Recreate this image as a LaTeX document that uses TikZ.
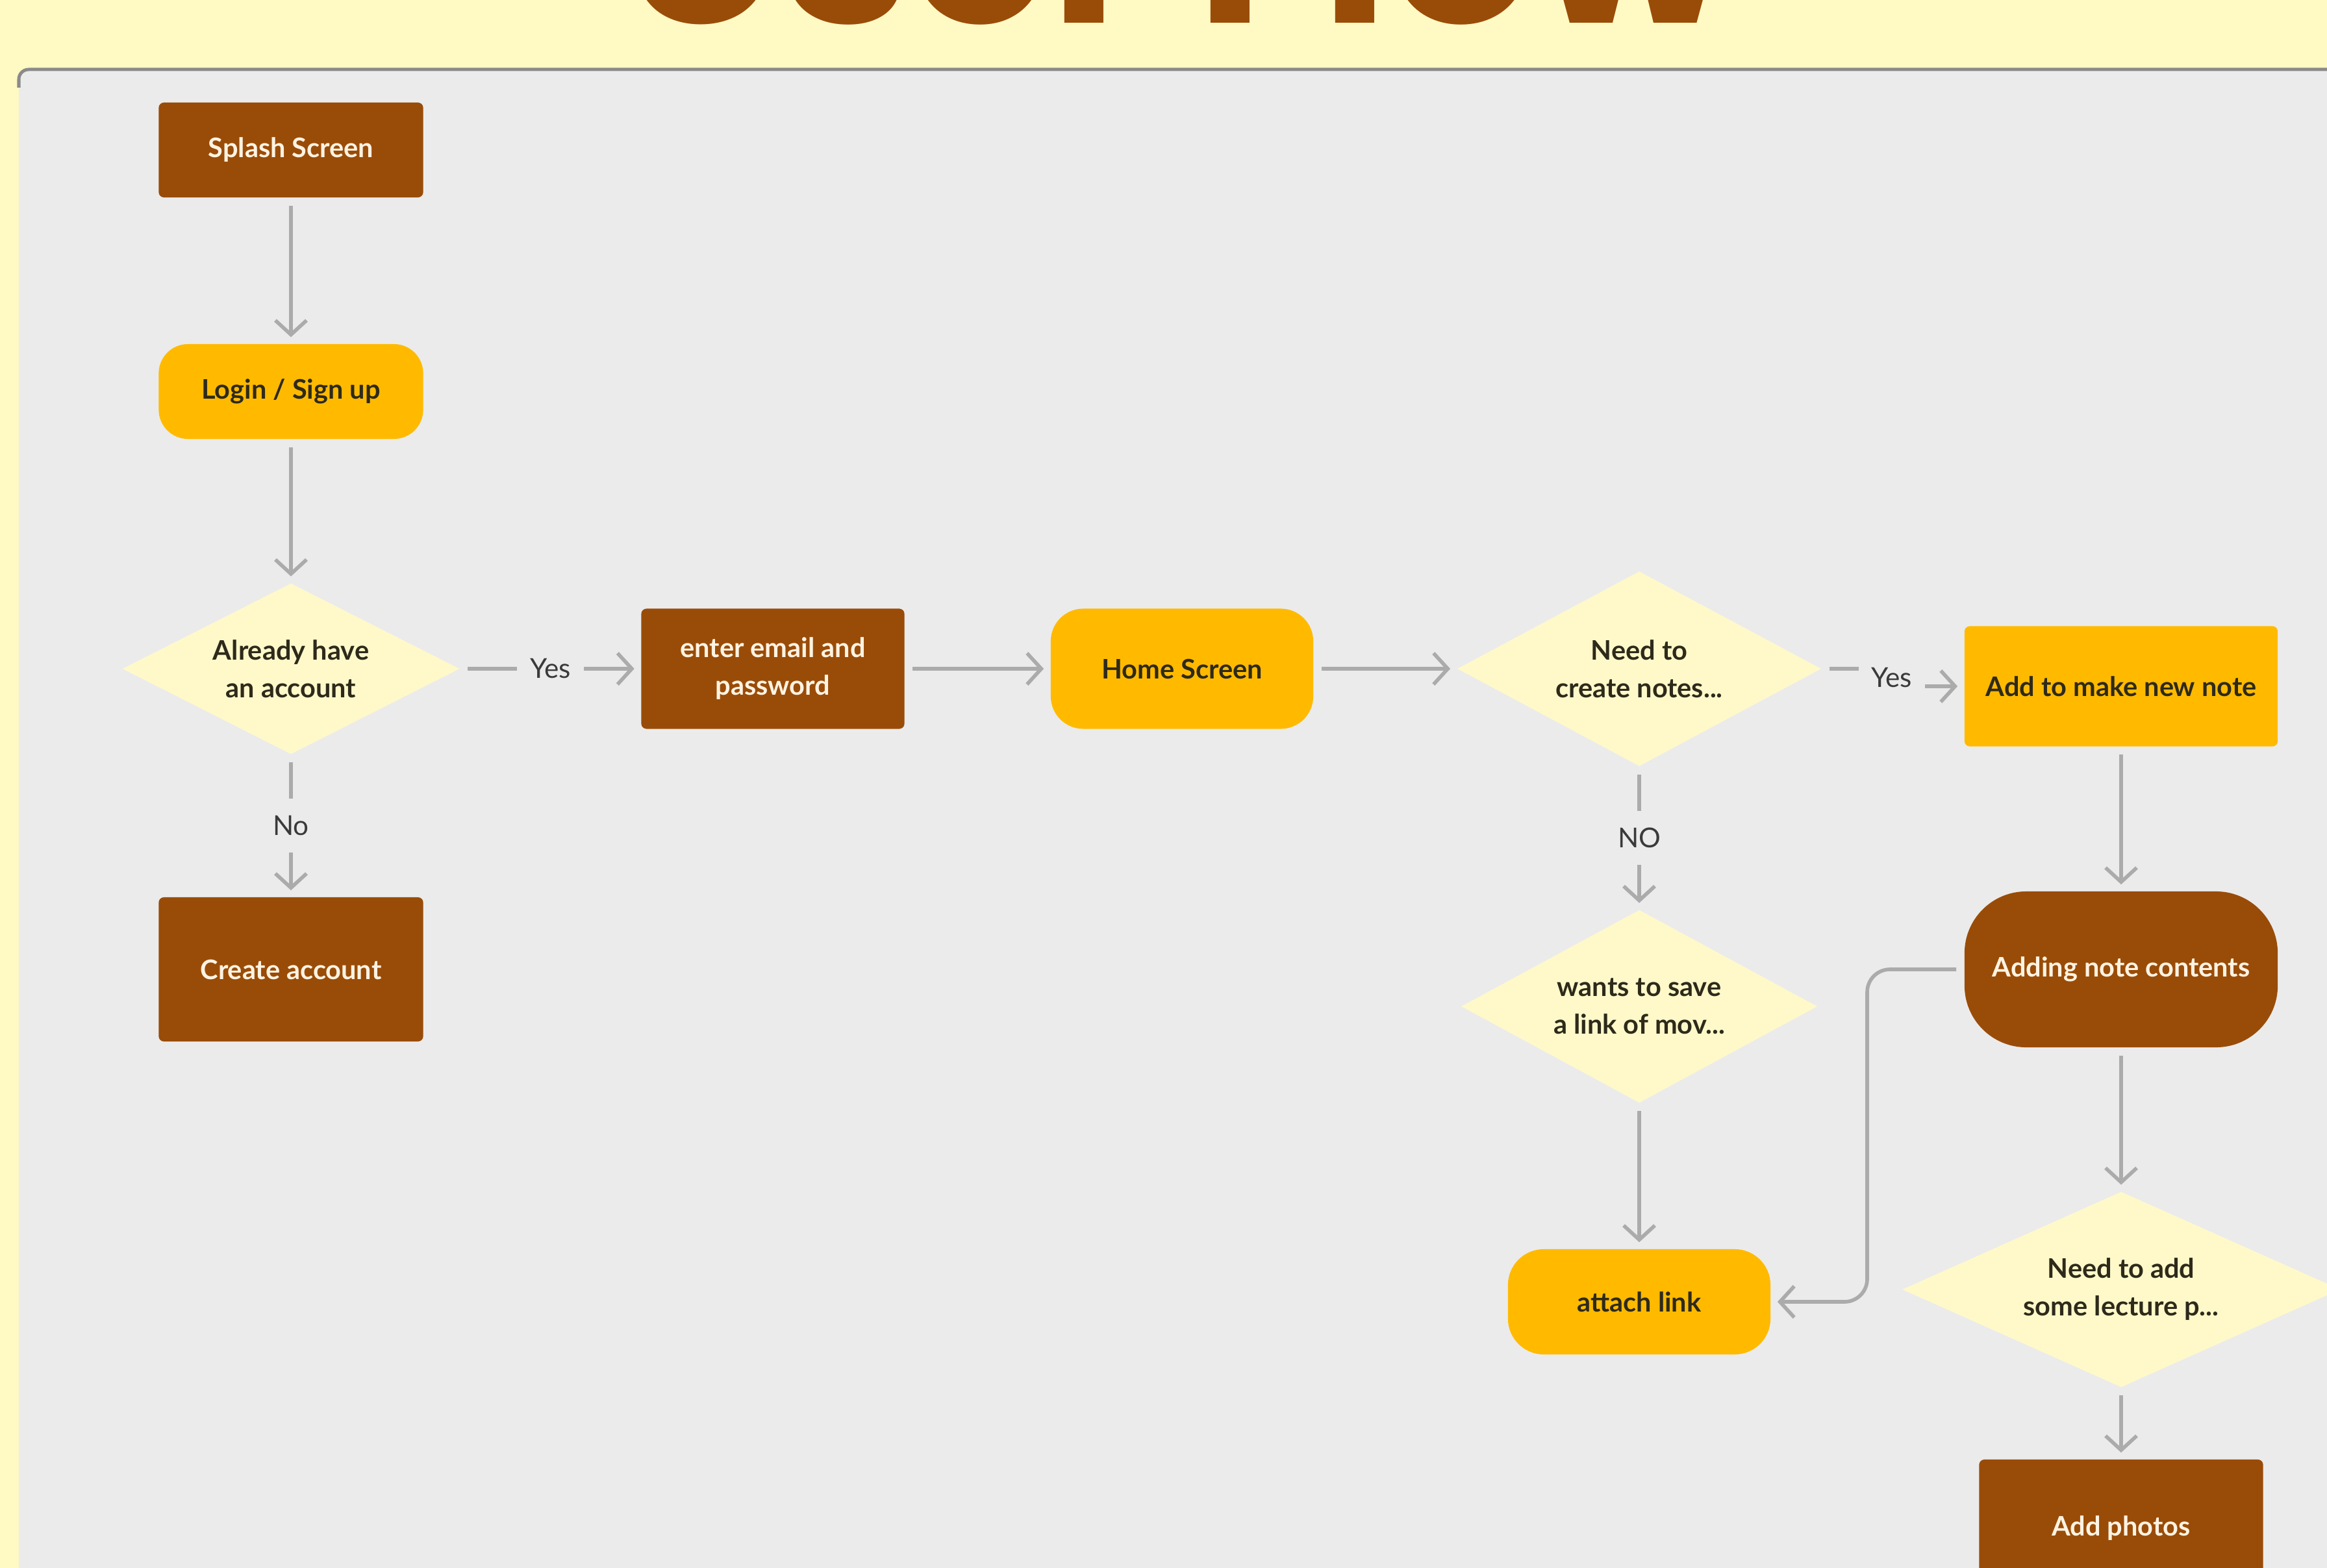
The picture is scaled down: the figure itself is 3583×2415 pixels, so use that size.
\documentclass[tikz,border=0pt]{standalone}
\usepackage{fontspec}
\newfontfamily\nodefont{Lato}
\newfontfamily\titlefont{Poppins}
\usetikzlibrary{shapes.geometric,arrows.meta}
\definecolor{bgc}{HTML}{FFF9C4}
\definecolor{panelc}{HTML}{EBEBEB}
\definecolor{edgec}{HTML}{8A8A8A}
\definecolor{brownc}{HTML}{994C08}
\definecolor{amberc}{HTML}{FFBA00}
\definecolor{diac}{HTML}{FFF9CA}
\definecolor{linec}{HTML}{ABABAB}
\definecolor{darktext}{HTML}{2E2A1A}
\definecolor{lighttext}{HTML}{FFF3E2}
\definecolor{labc}{HTML}{3A3A3A}
\begin{document}
\begin{tikzpicture}[x=0.01cm,y=-0.01cm,>={Straight Barb[length=0.22cm,width=0.48cm]},
  box/.style={rectangle,rounded corners=0.08cm,minimum width=4.07cm,minimum height=1.46cm,align=center,font=\nodefont\bfseries\fontsize{11.8}{16.5}\selectfont},
  brownbox/.style={box,fill=brownc,text=lighttext},
  amberbox/.style={box,fill=amberc,text=darktext},
  pill/.style={amberbox,rounded corners=0.45cm},
  decision/.style={diamond,fill=diac,text=darktext,inner sep=0pt,aspect=2,align=center,font=\nodefont\bfseries\fontsize{11.8}{16.5}\selectfont},
  flow/.style={draw=linec,line width=1.6pt,->,shorten <=0.12cm,shorten >=0.1cm},
  lbl/.style={fill=panelc,text=labc,inner xsep=0.2cm,inner ysep=0.26cm,font=\nodefont\fontsize{12}{14}\selectfont}]
\useasboundingbox (0,0) rectangle (3583,2415);
\clip (0,0) rectangle (3583,2415);
\fill[bgc] (0,0) rectangle (3583,2415);
\node[anchor=base,text=brownc,font=\titlefont\bfseries\fontsize{100}{100}\selectfont] (title) at (1812,36) {User Flow};
\fill[panelc,rounded corners=0.15cm] (29,107) rectangle (3700,2600);
\draw[edgec,line width=0.05cm,rounded corners=0.15cm] (29,135) |- (3700,107);

\node[brownbox] (splash) at (448,231) {Splash Screen};
\node[pill] (login) at (448,603) {Login / Sign up};
\node[decision,minimum width=5.19cm,minimum height=2.63cm] (acct) at (448,1030) {Already have\\an account};
\node[brownbox,minimum height=2.22cm] (create) at (448,1493) {Create account};
\node[brownbox,minimum width=4.05cm,minimum height=1.85cm] (email) at (1190,1030) {enter email and\\password};
\node[pill,minimum width=4.04cm,minimum height=1.85cm,rounded corners=0.5cm] (home) at (1820,1030) {Home Screen};
\node[decision,minimum width=5.6cm,minimum height=3cm] (needs) at (2524,1030) {Need to\\create notes...};
\node[amberbox,minimum width=4.82cm,minimum height=1.85cm] (newnote) at (3266,1057) {Add to make new note};
\node[decision,minimum width=5.48cm,minimum height=2.97cm] (savelink) at (2524,1550) {wants to save\\a link of mov...};
\node[pill,minimum width=4.04cm,minimum height=1.62cm,rounded corners=0.55cm] (attach) at (2524,2005) {attach link};
\node[brownbox,minimum width=4.82cm,minimum height=2.4cm,rounded corners=0.95cm] (adding) at (3266,1493) {Adding note contents};
\node[decision,minimum width=6.74cm,minimum height=3.01cm] (lecture) at (3266,1986) {Need to add\\some lecture p...};
\node[brownbox,minimum width=4.37cm,minimum height=2.12cm] (photos) at (3266,2354) {Add photos};

\draw[flow] (splash) -- (login);
\draw[flow] (login) -- (acct);
\draw[flow] (acct) -- node[lbl]{Yes} (email);
\draw[flow] (acct) -- node[lbl]{No} (create);
\draw[flow] (email) -- (home);
\draw[flow] (home) -- (needs);
\coordinate (yesbend) at (2913,1044);
\draw[flow] (needs.east) -| (yesbend) |- (newnote.west);
\node[lbl] (yeslbl) at (yesbend) {Yes};
\draw[flow] (needs) -- node[lbl]{NO} (savelink);
\draw[flow] (newnote) -- (adding);
\draw[flow] (savelink) -- (attach);
\coordinate (backbend) at (2875,1750);
\draw[flow,rounded corners=0.35cm] (adding.west) -| (backbend) |- (attach.east);
\draw[flow] (adding) -- (lecture);
\draw[flow] (lecture) -- (photos);
\end{tikzpicture}
\end{document}
